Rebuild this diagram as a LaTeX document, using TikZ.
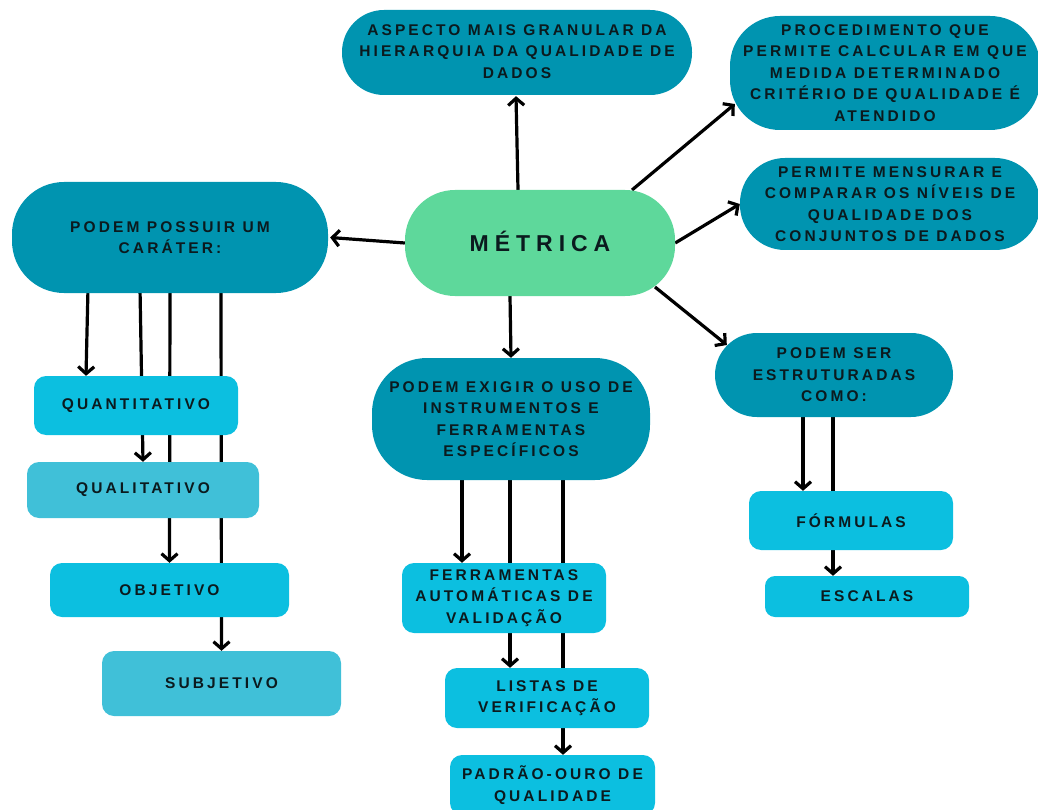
\documentclass[tikz,border=0pt]{standalone}
\usepackage{fontspec}
\newfontfamily\lblfont{Liberation Sans}[LetterSpace=20]
\newfontfamily\titlefont{Liberation Sans}[LetterSpace=26]
\usetikzlibrary{arrows.meta,calc,backgrounds}
\definecolor{dteal}{HTML}{0094B0}
\definecolor{bright}{HTML}{0CBFE0}
\definecolor{light}{HTML}{40C0D8}
\definecolor{mint}{HTML}{5ED89B}
\definecolor{ink}{HTML}{0B1A1E}
\begin{document}
\begin{tikzpicture}[x=1pt,y=-1pt,
  base/.style={inner sep=0pt,align=center,text=ink,
    font=\lblfont\bfseries\fontsize{15.5}{21.5}\selectfont},
  pill/.style={base,fill=dteal},
  card/.style={base,fill=bright,rounded corners=12pt},
  softcard/.style={base,fill=light,rounded corners=12pt},
  arr/.style={draw=black,line width=3.2pt,-{Straight Barb[length=7pt,width=16pt]}}]
\useasboundingbox (0,0) rectangle (1038,810);

% central node
\node[base,fill=mint,minimum width=270pt,minimum height=106pt,rounded corners=50pt,
  font=\titlefont\bfseries\fontsize{23}{27}\selectfont] (metrica) at (540,243) {\raisebox{3pt}{MÉTRICA}};

% first-level nodes
\node[pill,minimum width=350pt,minimum height=85pt,rounded corners=42pt] (asp) at (517,52.5)
  {\raisebox{2pt}{\begin{tabular}{@{}c@{}}ASPECTO MAIS GRANULAR DA\\HIERARQUIA DA QUALIDADE DE\\DADOS\end{tabular}}};
\node[pill,minimum width=310pt,minimum height=114pt,rounded corners=50pt] (proc) at (885,73)
  {PROCEDIMENTO QUE\\PERMITE CALCULAR EM QUE\\MEDIDA DETERMINADO\\CRITÉRIO DE QUALIDADE É\\ATENDIDO};
\node[pill,minimum width=300pt,minimum height=92pt,rounded corners=45pt] (perm) at (890,204)
  {PERMITE MENSURAR E\\COMPARAR OS NÍVEIS DE\\QUALIDADE DOS\\CONJUNTOS DE DADOS};
\node[pill,minimum width=316pt,minimum height=111pt,rounded corners=52pt] (possuir) at (170,237.5)
  {PODEM POSSUIR UM\\CARÁTER:};
\node[pill,minimum width=278pt,minimum height=122pt,rounded corners=55pt] (exigir) at (511,419)
  {PODEM EXIGIR O USO DE\\INSTRUMENTOS E\\FERRAMENTAS\\ESPECÍFICOS};
\node[pill,minimum width=238pt,minimum height=84pt,rounded corners=42pt] (ser) at (834,375)
  {PODEM SER\\ESTRUTURADAS\\COMO:};

% character of the metric
\node[card,minimum width=204pt,minimum height=59pt] (quant) at (136,405.5) {QUANTITATIVO};
\node[softcard,minimum width=232pt,minimum height=56pt] (qual) at (143,490) {QUALITATIVO};
\node[card,minimum width=239pt,minimum height=54pt] (obj) at (169.5,590) {OBJETIVO};
\node[softcard,minimum width=239pt,minimum height=65pt] (subj) at (221.5,683.5) {SUBJETIVO};

% instruments and tools
\node[card,minimum width=204pt,minimum height=70pt] (ferr) at (504,598)
  {FERRAMENTAS\\AUTOMÁTICAS DE\\VALIDAÇÃO};
\node[card,minimum width=204pt,minimum height=60pt] (listas) at (547,698)
  {LISTAS DE\\VERIFICAÇÃO};
\node[card,minimum width=205pt,minimum height=60pt] (padrao) at (552.5,785)
  {PADRÃO-OURO DE\\QUALIDADE};

% structures
\node[card,minimum width=204pt,minimum height=59pt] (form) at (851,520.5) {FÓRMULAS};
\node[card,minimum width=204pt,minimum height=41pt,rounded corners=10pt] (esc) at (867,596.5) {ESCALAS};

\begin{pgfonlayer}{background}
  % from the central node
  \draw[arr] ($(metrica.north)+(-22,0)$) -- ($(asp.south)+(-1,1)$);
  \draw[arr] ($(metrica.center)+(92,-53)$) -- ($(proc.west)+(5,31)$);
  \draw[arr] (metrica.east) -- (perm.west);
  \draw[arr] (metrica.west) -- ($(possuir.east)+(2,0)$);
  \draw[arr] ($(metrica.south)+(-30,0)$) -- ($(exigir.north)+(0,0)$);
  \draw[arr] ($(metrica.center)+(115,44)$) -- ($(ser.west)+(12,-30)$);
  % character branches
  \draw[arr] ($(possuir.south)+(-82,-5)$) -- ($(quant.north)+(-50,0)$);
  \draw[arr] ($(possuir.south)+(-30,-5)$) -- (qual.north);
  \draw[arr] ($(possuir.south)+(0,-5)$) -- (obj.north);
  \draw[arr] ($(possuir.south)+(51,-5)$) -- (subj.north);
  % instrument branches
  \draw[arr] ($(exigir.south)+(-49,-5)$) -- ($(ferr.north)+(-42,0)$);
  \draw[arr] ($(exigir.south)+(-1,-5)$) -- ($(listas.north)+(-37,0)$);
  \draw[arr] ($(exigir.south)+(52,-5)$) -- ($(padrao.north)+(10.5,0)$);
  % structure branches
  \draw[arr] ($(ser.south)+(-31,-5)$) -- ($(form.north)+(-48,0)$);
  \draw[arr] ($(ser.south)+(-1,-5)$) -- ($(esc.north)+(-34,0)$);
\end{pgfonlayer}
\end{tikzpicture}
\end{document}
